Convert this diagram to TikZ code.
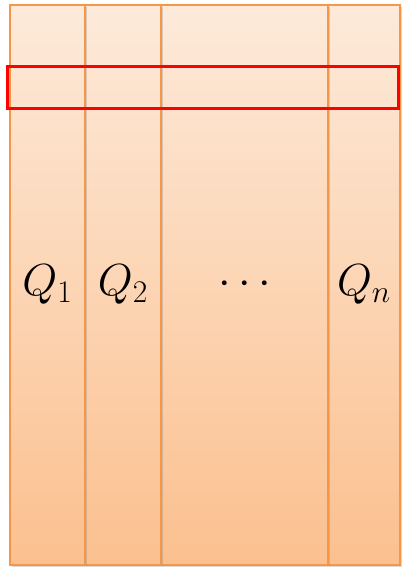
\documentclass[tikz,border=0pt]{standalone}
\usepackage{fix-cm}
\usetikzlibrary{shadows}
\definecolor{peachtop}{RGB}{253,234,218}
\definecolor{peachbot}{RGB}{251,192,143}
\definecolor{rim}{RGB}{247,150,70}
\definecolor{selred}{RGB}{255,0,0}
\tikzset{
  col/.style={rectangle,draw=rim,line width=0.8pt,top color=peachtop,bottom color=peachbot,
    minimum height=14cm,inner sep=0pt,outer sep=0pt,font=\fontsize{32}{36}\selectfont,
    drop shadow={shadow xshift=0.5mm,shadow yshift=-0.5mm,opacity=0.3}},
  sel/.style={rectangle,draw=selred,line width=2.8pt,inner sep=0pt,
    minimum width=9.775cm,minimum height=1.05cm},
}
\begin{document}
\begin{tikzpicture}
  \useasboundingbox (0,0) rectangle (10.075,14.2);
  % columns, right to left so each shadow falls on its neighbour
  \foreach \n/\x/\w/\t in {n/9.1/1.8/{$Q_n$},d/6.1125/4.175/{$\cdots$},2/3.075/1.9/{$Q_2$},1/1.1875/1.875/{$Q_1$}}{
    \node[col,minimum width=\w cm] (q\n) at (\x,7.075) {\t};
  }
  % selected row
  \node[sel] (row) at (5.075,12.0125) {};
\end{tikzpicture}
\end{document}
